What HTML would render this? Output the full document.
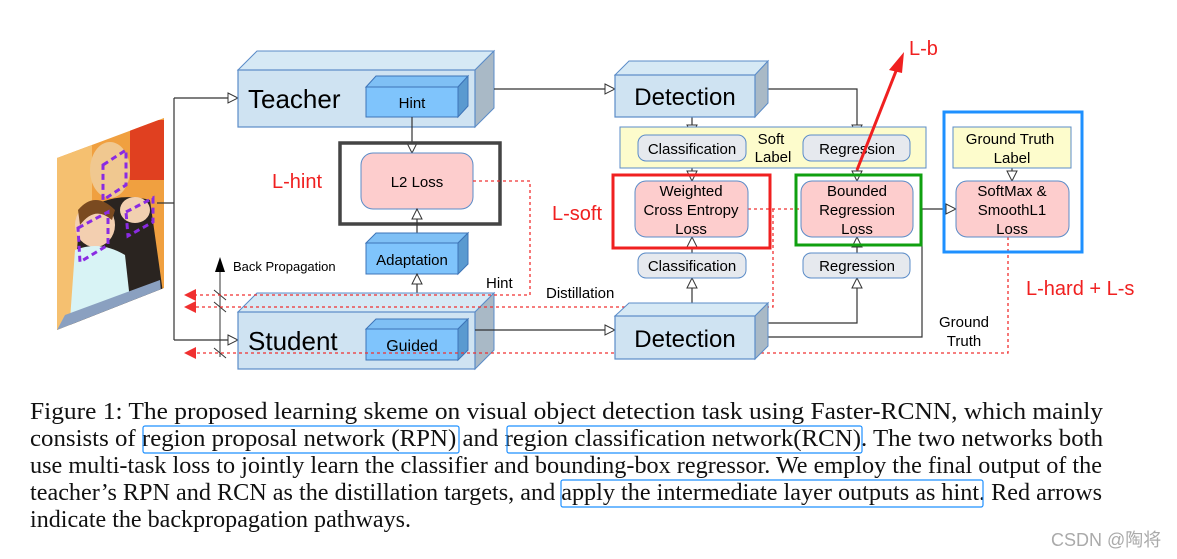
<!DOCTYPE html>
<html><head><meta charset="utf-8"><style>
html,body{margin:0;padding:0;background:#fff;}
svg{display:block;}
text{font-family:"Liberation Sans",sans-serif;}
.cap{font-family:"Liberation Serif",serif;font-size:24px;fill:#111;}
</style></head><body>
<svg width="1177" height="559" viewBox="0 0 1177 559" xmlns="http://www.w3.org/2000/svg">
<defs>
<marker id="oa" markerWidth="12" markerHeight="12" refX="11" refY="6" orient="auto" markerUnits="userSpaceOnUse">
<path d="M1,1 L11,6 L1,11 Z" fill="#fff" stroke="#333" stroke-width="1"/></marker>
<marker id="oas" markerWidth="12" markerHeight="12" refX="1" refY="6" orient="auto" markerUnits="userSpaceOnUse">
<path d="M11,1 L1,6 L11,11 Z" fill="#fff" stroke="#333" stroke-width="1"/></marker>
<clipPath id="ph"><polygon points="57,158 164,118 164,288 57,330"/></clipPath>
</defs>

<!-- photo -->
<g clip-path="url(#ph)">
<rect x="57" y="118" width="107" height="212" fill="#f0a040"/>
<rect x="57" y="118" width="35" height="212" fill="#f5c070"/>
<rect x="130" y="120" width="34" height="60" fill="#e04020"/>
<ellipse cx="110" cy="170" rx="20" ry="28" fill="#f0c890"/>
<path d="M80,215 Q110,190 150,200 L164,300 L70,330 Z" fill="#2a2420"/>
<ellipse cx="95" cy="225" rx="20" ry="22" fill="#f3cfb0"/>
<path d="M78,210 Q95,190 115,210 L112,220 Q95,205 80,225 Z" fill="#7a4a20"/>
<ellipse cx="135" cy="210" rx="15" ry="13" fill="#f1d0b0"/>
<path d="M75,250 Q100,240 125,255 L130,300 L70,320 Z" fill="#d8f3f5"/>
<path d="M65,315 L160,280 L164,330 L57,330 Z" fill="#8aa0c0"/>
</g>
<g fill="none" stroke="#8a2be2" stroke-width="3" stroke-dasharray="6,4">
<polygon points="103,165 126,150 126,185 103,200"/>
<polygon points="78,228 108,212 108,245 80,262"/>
<polygon points="126,212 153,198 153,222 128,236"/>
</g>

<!-- input lines -->
<g stroke="#333" stroke-width="1.2" fill="none">
<line x1="157" y1="203" x2="174" y2="203"/>
<line x1="174" y1="98" x2="174" y2="340"/>
<line x1="174" y1="98" x2="238" y2="98" marker-end="url(#oa)"/>
<line x1="174" y1="340" x2="238" y2="340" marker-end="url(#oa)"/>
</g>

<!-- Teacher -->
<polygon points="238,70 257,51 494,51 475,70" fill="#d6e9f5" stroke="#5b8cc8"/>
<polygon points="475,70 494,51 494,108 475,127" fill="#a9b9c6" stroke="#5b8cc8"/>
<rect x="238" y="70" width="237" height="57" fill="#cfe3f2" stroke="#5b8cc8" stroke-width="1.2"/>
<text x="248" y="108" font-size="26">Teacher</text>
<polygon points="366,87 376,76 468,76 458,87" fill="#7fc0f5" stroke="#3d74b8"/>
<polygon points="458,87 468,76 468,106 458,117" fill="#5a9ad0" stroke="#3d74b8"/>
<rect x="366" y="87" width="92" height="30" fill="#7fc4fc" stroke="#3d74b8"/>
<text x="412" y="108" font-size="15" text-anchor="middle">Hint</text>

<!-- L2 -->
<line x1="412" y1="117" x2="412" y2="153" stroke="#333" stroke-width="1.2" marker-end="url(#oa)"/>
<rect x="340" y="143" width="160" height="81" fill="none" stroke="#444" stroke-width="3.5"/>
<rect x="361" y="153" width="112" height="56" rx="12" fill="#fdcdcd" stroke="#5b8cc8"/>
<text x="417" y="187" font-size="15" text-anchor="middle">L2 Loss</text>
<text x="272" y="188" font-size="20" fill="#f02020">L-hint</text>

<!-- Adaptation -->
<line x1="417" y1="243" x2="417" y2="209" stroke="#333" stroke-width="1.2" marker-end="url(#oa)" marker-start="url(#oa)"/>
<polygon points="366,243 376,233 468,233 458,243" fill="#7fc0f5" stroke="#3d74b8"/>
<polygon points="458,243 468,233 468,264 458,274" fill="#5a9ad0" stroke="#3d74b8"/>
<rect x="366" y="243" width="92" height="31" fill="#7fc4fc" stroke="#3d74b8"/>
<text x="412" y="265" font-size="15" text-anchor="middle">Adaptation</text>
<line x1="417" y1="274" x2="417" y2="312" stroke="#333" stroke-width="1.2" marker-end="url(#oa)" marker-start="url(#oas)"/>

<!-- Student -->
<polygon points="238,312 257,293 494,293 475,312" fill="#d6e9f5" stroke="#5b8cc8"/>
<polygon points="475,312 494,293 494,350 475,369" fill="#a9b9c6" stroke="#5b8cc8"/>
<rect x="238" y="312" width="237" height="57" fill="#cfe3f2" stroke="#5b8cc8" stroke-width="1.2"/>
<text x="248" y="350" font-size="26">Student</text>
<polygon points="366,329 376,319 468,319 458,329" fill="#7fc0f5" stroke="#3d74b8"/>
<polygon points="458,329 468,319 468,350 458,360" fill="#5a9ad0" stroke="#3d74b8"/>
<rect x="366" y="329" width="92" height="31" fill="#7fc4fc" stroke="#3d74b8"/>
<text x="412" y="351" font-size="16" text-anchor="middle">Guided</text>

<!-- back propagation -->
<line x1="220" y1="268" x2="220" y2="357" stroke="#333" stroke-width="1"/>
<polygon points="220,257 215,272 225,272" fill="#000"/>
<g stroke="#333" stroke-width="1"><line x1="214" y1="290" x2="226" y2="300"/><line x1="214" y1="302" x2="226" y2="312"/><line x1="214" y1="348" x2="226" y2="358"/></g>
<text x="233" y="271" font-size="13">Back Propagation</text>
<text x="486" y="288" font-size="15">Hint</text>
<text x="546" y="298" font-size="15">Distillation</text>

<!-- red dotted -->
<g stroke="#f03030" stroke-width="1.3" fill="none" stroke-dasharray="3,3">
<polyline points="473,181 530,181 530,295 196,295"/>
<polyline points="748,209 801,209"/>
<polyline points="773,209 773,307 196,307"/>
<polyline points="1008,237 1008,353 196,353"/>
</g>
<g fill="#f03030"><polygon points="184,295 196,289 196,301"/><polygon points="184,307 196,301 196,313"/><polygon points="184,353 196,347 196,359"/></g>

<g stroke="#333" stroke-width="1.2" fill="none">
<line x1="494" y1="89" x2="615" y2="89" marker-end="url(#oa)"/>
<line x1="475" y1="330" x2="615" y2="330" marker-end="url(#oa)"/>
<polyline points="768,89 857,89 857,135" marker-end="url(#oa)"/>
<line x1="692" y1="117" x2="692" y2="135" marker-end="url(#oa)"/>
<line x1="692" y1="161" x2="692" y2="181" marker-end="url(#oa)"/>
<line x1="857" y1="161" x2="857" y2="181" marker-end="url(#oa)"/>
<line x1="692" y1="303" x2="692" y2="278" marker-end="url(#oa)"/>
<line x1="692" y1="253" x2="692" y2="237" marker-end="url(#oa)"/>
<polyline points="755,323 857,323 857,278" marker-end="url(#oa)"/>
<line x1="857" y1="253" x2="857" y2="237" marker-end="url(#oa)"/>
<polyline points="755,337 922,337 922,209 956,209" marker-end="url(#oa)"/>
<line x1="1012" y1="168" x2="1012" y2="181" marker-end="url(#oa)"/>
</g>

<!-- Detection top -->
<polygon points="615,75 629,61 768,61 755,75" fill="#d6e9f5" stroke="#5b8cc8"/>
<polygon points="755,75 768,61 768,103 755,117" fill="#a9b9c6" stroke="#5b8cc8"/>
<rect x="615" y="75" width="140" height="42" fill="#cfe3f2" stroke="#5b8cc8" stroke-width="1.2"/>
<text x="685" y="105" font-size="24" text-anchor="middle">Detection</text>

<rect x="620" y="127" width="306" height="41" fill="#fdfccc" stroke="#5b8cc8"/>
<rect x="638" y="135" width="108" height="26" rx="8" fill="#e6e9ee" stroke="#5b8cc8"/>
<text x="692" y="154" font-size="15" text-anchor="middle">Classification</text>
<rect x="803" y="135" width="107" height="26" rx="8" fill="#e6e9ee" stroke="#5b8cc8"/>
<text x="857" y="154" font-size="15" text-anchor="middle">Regression</text>
<text x="771" y="144" font-size="15" text-anchor="middle">Soft</text>
<text x="773" y="162" font-size="15" text-anchor="middle">Label</text>

<!-- WCE -->
<rect x="613" y="175" width="157" height="73" fill="none" stroke="#f02020" stroke-width="3"/>
<rect x="635" y="181" width="113" height="56" rx="11" fill="#fdcdcd" stroke="#5b8cc8"/>
<text x="691" y="196" font-size="15" text-anchor="middle">Weighted</text>
<text x="691" y="215" font-size="15" text-anchor="middle">Cross Entropy</text>
<text x="691" y="234" font-size="15" text-anchor="middle">Loss</text>
<text x="552" y="220" font-size="20" fill="#f02020">L-soft</text>

<!-- BRL -->
<rect x="796" y="175" width="125" height="70" fill="none" stroke="#10a010" stroke-width="3"/>
<rect x="801" y="181" width="112" height="56" rx="11" fill="#fdcdcd" stroke="#5b8cc8"/>
<text x="857" y="196" font-size="15" text-anchor="middle">Bounded</text>
<text x="857" y="215" font-size="15" text-anchor="middle">Regression</text>
<text x="857" y="234" font-size="15" text-anchor="middle">Loss</text>

<rect x="638" y="253" width="108" height="25" rx="8" fill="#e6e9ee" stroke="#5b8cc8"/>
<text x="692" y="271" font-size="15" text-anchor="middle">Classification</text>
<rect x="803" y="253" width="107" height="25" rx="8" fill="#e6e9ee" stroke="#5b8cc8"/>
<text x="857" y="271" font-size="15" text-anchor="middle">Regression</text>

<!-- Detection bottom -->
<polygon points="615,316 629,303 768,303 755,316" fill="#d6e9f5" stroke="#5b8cc8"/>
<polygon points="755,316 768,303 768,346 755,359" fill="#a9b9c6" stroke="#5b8cc8"/>
<rect x="615" y="316" width="140" height="43" fill="#cfe3f2" stroke="#5b8cc8" stroke-width="1.2"/>
<text x="685" y="347" font-size="24" text-anchor="middle">Detection</text>

<!-- GT -->
<rect x="944" y="112" width="138" height="140" fill="none" stroke="#1e90ff" stroke-width="3"/>
<rect x="953" y="127" width="118" height="41" fill="#fdfccc" stroke="#5b8cc8"/>
<text x="1010" y="144" font-size="15" text-anchor="middle">Ground Truth</text>
<text x="1012" y="163" font-size="15" text-anchor="middle">Label</text>
<rect x="956" y="181" width="113" height="56" rx="11" fill="#fdcdcd" stroke="#5b8cc8"/>
<text x="1012" y="196" font-size="15" text-anchor="middle">SoftMax &amp;</text>
<text x="1012" y="215" font-size="15" text-anchor="middle">SmoothL1</text>
<text x="1012" y="234" font-size="15" text-anchor="middle">Loss</text>
<text x="964" y="327" font-size="15" text-anchor="middle">Ground</text>
<text x="964" y="346" font-size="15" text-anchor="middle">Truth</text>
<text x="1026" y="295" font-size="20" fill="#f02020">L-hard + L-s</text>

<!-- L-b arrow -->
<line x1="857" y1="170" x2="898" y2="66" stroke="#f02020" stroke-width="3"/>
<polygon points="904,52 889,70 902,73" fill="#f02020"/>
<text x="909" y="55" font-size="20" fill="#f02020">L-b</text>

<!-- caption -->
<text class="cap" x="30" y="419" textLength="1073" lengthAdjust="spacingAndGlyphs">Figure 1:  The proposed learning skeme on visual object detection task using Faster-RCNN, which mainly</text>
<text class="cap" x="30" y="446" textLength="1073" lengthAdjust="spacingAndGlyphs">consists of region proposal network (RPN) and region classification network(RCN). The two networks both</text>
<text class="cap" x="30" y="473" textLength="1072" lengthAdjust="spacingAndGlyphs">use multi-task loss to jointly learn the classifier and bounding-box regressor. We employ the final output of the</text>
<text class="cap" x="30" y="500" textLength="1072" lengthAdjust="spacingAndGlyphs">teacher’s RPN and RCN as the distillation targets, and apply the intermediate layer outputs as hint. Red arrows</text>
<text class="cap" x="30" y="527" textLength="381" lengthAdjust="spacingAndGlyphs">indicate the backpropagation pathways.</text>
<g fill="none" stroke="#1e90ff" stroke-width="1.2">
<rect x="143" y="426" width="316" height="27" rx="2"/>
<rect x="507" y="426" width="355" height="27" rx="2"/>
<rect x="561" y="480" width="422" height="27" rx="2"/>
</g>
<text x="1051" y="546" font-size="18" fill="#aaa" font-family="'Liberation Sans','Noto Sans CJK SC',sans-serif">CSDN @陶将</text>
</svg>
</body></html>
